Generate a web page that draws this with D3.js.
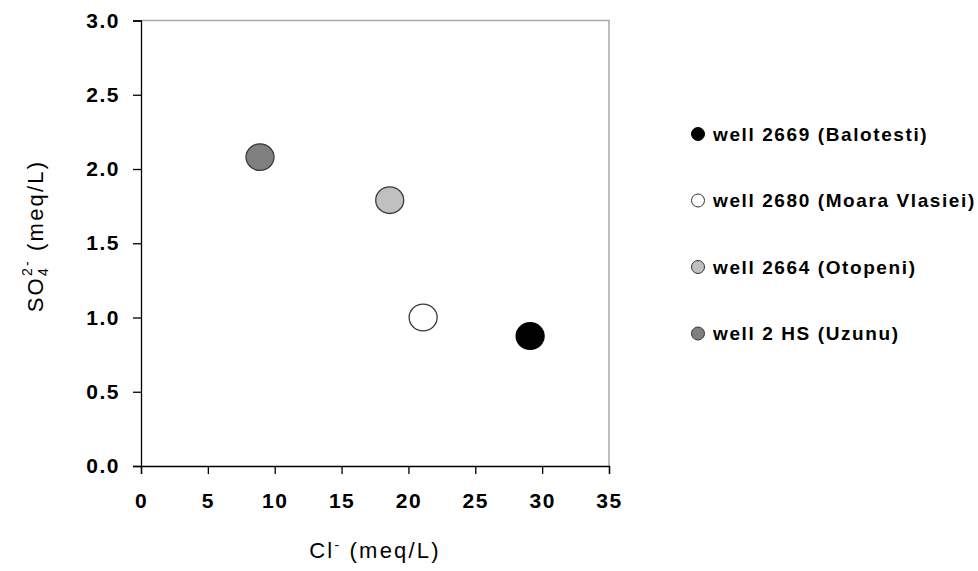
<!DOCTYPE html>
<html>
<head>
<meta charset="utf-8">
<script src="https://cdn.jsdelivr.net/npm/d3@7"></script>
<style>
    html, body { margin: 0; padding: 0; background: #fff; }
</style>
</head>
<body>
<div id="chart"></div>
<script>
// data
const wells = ["well 2669 (Balotesti)", "well 2680 (Moara Vlasiei)", "well 2664 (Otopeni)", "well 2 HS (Uzunu)"];
const chloride = [29.1, 21.1, 18.6, 8.9];
const sulfate = [0.875, 1.0, 1.79, 2.08];
const fills = ["#000000", "#ffffff", "#c0c0c0", "#808080"];
const xTicks = [0, 5, 10, 15, 20, 25, 30, 35];
const yTicks = [0, 0.5, 1.0, 1.5, 2.0, 2.5, 3.0];

class Chart {
    constructor() {
        const attrs = {
            svgWidth: 978,
            svgHeight: 571,
            marginTop: 20.5,
            marginLeft: 141,
            plotWidth: 468,
            plotHeight: 445.5,
            legendLeft: 698,
            legendTop: 134,
            legendStep: 66.5,
            container: "#chart",
            defaultFont: "'Liberation Sans', Arial, sans-serif"
        };
        this.getState = () => attrs;
        this.setState = (d) => Object.assign(attrs, d);
    }

    render() {
        this.drawSvgAndWrappers();
        this.drawAxes();
        this.drawPoints();
        this.drawLegend();
        return this;
    }

    drawSvgAndWrappers() {
        const { container, svgWidth, svgHeight, defaultFont, marginLeft, marginTop } = this.getState();

        const svg = d3.select(container)
            .append("svg")
            .attr("width", svgWidth)
            .attr("height", svgHeight)
            .attr("font-family", defaultFont);

        const chart = svg.append("g")
            .attr("transform", `translate(${marginLeft},${marginTop})`);

        this.setState({ svg, chart });
    }

    drawAxes() {
        const { chart, svg, plotWidth, plotHeight, marginLeft } = this.getState();

        const x = d3.scaleLinear().domain([0, 35]).range([0, plotWidth]);
        const y = d3.scaleLinear().domain([0, 3]).range([plotHeight, 0]);

        // grey frame on top and right
        chart.append("path")
            .attr("d", `M0,0H${plotWidth}V${plotHeight}`)
            .attr("fill", "none")
            .attr("stroke", "#a8a8a8")
            .attr("stroke-width", 1.5);

        const xAxis = chart.append("g")
            .attr("transform", `translate(0,${plotHeight})`)
            .call(d3.axisBottom(x).tickValues(xTicks).tickSize(8).tickPadding(19).tickFormat(d3.format("d")));

        const yAxis = chart.append("g")
            .call(d3.axisLeft(y).tickValues(yTicks).tickSize(8).tickPadding(13).tickFormat(d3.format(".1f")));

        [xAxis, yAxis].forEach(a => {
            a.select(".domain").attr("stroke", "#000").attr("stroke-width", 1.3);
            a.selectAll(".tick line").attr("stroke", "#000").attr("stroke-width", 1.3);
            a.selectAll(".tick text")
                .attr("fill", "#000")
                .attr("font-size", 21)
                .attr("font-weight", "bold")
                .attr("letter-spacing", 1.5);
        });

        // x title
        const xt = svg.append("text")
            .attr("x", marginLeft + plotWidth / 2)
            .attr("y", 558)
            .attr("text-anchor", "middle")
            .attr("font-size", 22)
            .attr("letter-spacing", 2.2);
        xt.append("tspan").text("Cl");
        xt.append("tspan").attr("dy", -8).attr("font-size", 14).text("-");
        xt.append("tspan").attr("dy", 8).text(" (meq/L)");

        // y title
        const yt = svg.append("text")
            .attr("transform", `translate(43,236) rotate(-90)`)
            .attr("text-anchor", "middle")
            .attr("font-size", 22)
            .attr("letter-spacing", 2.2);
        yt.append("tspan").text("SO");
        yt.append("tspan").attr("dy", 5).attr("font-size", 14).text("4");
        yt.append("tspan").attr("dx", -10).attr("dy", -16).attr("font-size", 14).text("2-");
        yt.append("tspan").attr("dy", 11).text(" (meq/L)");

        this.setState({ x, y });
    }

    drawPoints() {
        const { chart, x, y } = this.getState();

        chart.selectAll(".pt")
            .data(wells)
            .enter()
            .append("ellipse")
            .attr("class", "pt")
            .attr("cx", (d, i) => x(chloride[i]))
            .attr("cy", (d, i) => y(sulfate[i]))
            .attr("rx", 14)
            .attr("ry", 13.3)
            .attr("fill", (d, i) => fills[i])
            .attr("stroke", (d, i) => i === 0 ? "#000" : "#3a3a3a")
            .attr("stroke-width", 1.3);
    }

    drawLegend() {
        const { svg, legendLeft, legendTop, legendStep } = this.getState();

        const item = svg.selectAll(".legend-item")
            .data(wells)
            .enter()
            .append("g")
            .attr("class", "legend-item")
            .attr("transform", (d, i) => `translate(${legendLeft},${legendTop + i * legendStep})`);

        item.append("circle")
            .attr("r", 6.5)
            .attr("fill", (d, i) => fills[i])
            .attr("stroke", (d, i) => i === 0 ? "#000" : "#333")
            .attr("stroke-width", 1);

        item.append("text")
            .attr("x", 15)
            .attr("dy", "0.36em")
            .attr("font-size", 19)
            .attr("font-weight", "bold")
            .attr("letter-spacing", 1.6)
            .text(d => d);
    }
}

new Chart().render();
</script>
</body>
</html>
